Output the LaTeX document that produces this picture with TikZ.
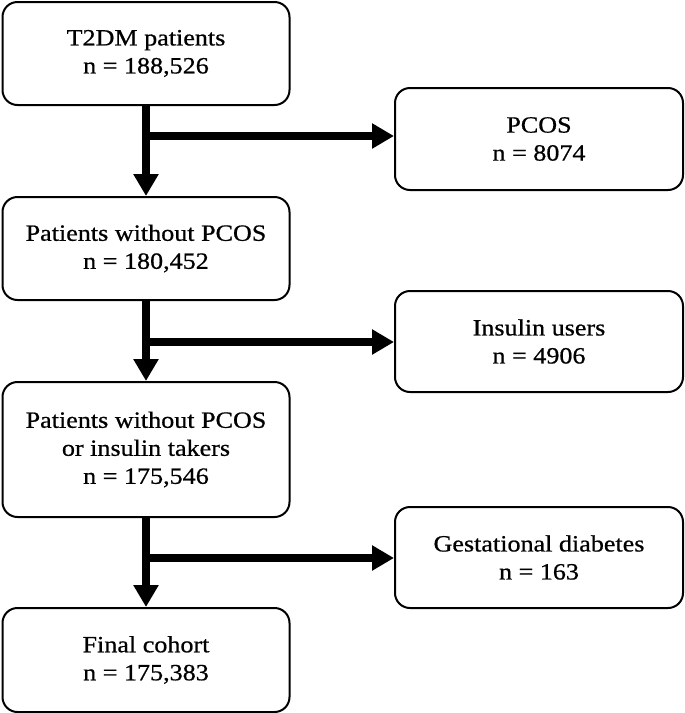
\documentclass[tikz,border=0pt]{standalone}
\usepackage{fontspec}
\setmainfont{Liberation Serif}[FakeStretch=1.12,FakeBold=0.7]
\usetikzlibrary{arrows.meta}
\tikzset{
  box/.style={draw=black, line width=2pt, rounded corners=15pt, align=center,
    font=\fontsize{23.3}{28}\selectfont, inner sep=0pt, fill=white},
  flow/.style={line width=8pt, -{Triangle[width=24pt,length=22pt]}}
}
\begin{document}
\begin{tikzpicture}[x=1pt,y=-1pt]
\useasboundingbox (0,0) rectangle (685,713);
\node[box, minimum width=287pt, minimum height=103pt] (b1) at (146,53.5) {T2DM patients\\n = 188,526};
\node[box, minimum width=288pt, minimum height=102pt] (pcos) at (539,139) {PCOS\\n = 8074};
\node[box, minimum width=287pt, minimum height=103pt] (b2) at (146,248.5) {Patients without PCOS\\n = 180,452};
\node[box, minimum width=288pt, minimum height=101pt] (ins) at (539,341.5) {Insulin users\\n = 4906};
\node[box, minimum width=287pt, minimum height=135pt] (b3) at (146,449.5) {Patients without PCOS\\or insulin takers\\n = 175,546};
\node[box, minimum width=288pt, minimum height=101pt] (gest) at (539,557.5) {Gestational diabetes\\n = 163};
\node[box, minimum width=287pt, minimum height=104pt] (fin) at (146,660) {Final cohort\\n = 175,383};
\coordinate (j1) at (146,136);
\coordinate (j2) at (146,342);
\coordinate (j3) at (146,558);
\draw[flow] (b1.south) -- (b2.north);
\draw[flow] (j1) -- (j1 -| pcos.west);
\draw[flow] (b2.south) -- (b3.north);
\draw[flow] (j2) -- (j2 -| ins.west);
\draw[flow] (b3.south) -- (fin.north);
\draw[flow] (j3) -- (j3 -| gest.west);
\end{tikzpicture}
\end{document}
